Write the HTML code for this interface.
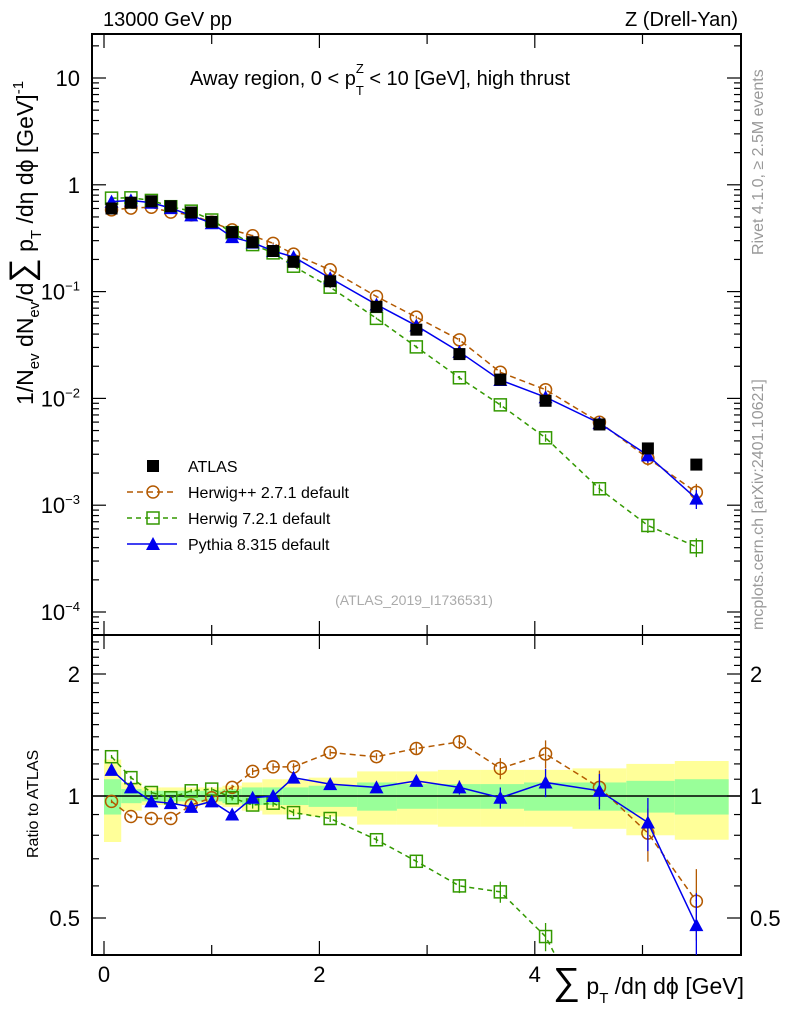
<!DOCTYPE html>
<html><head><meta charset="utf-8">
<style>
html,body{margin:0;padding:0;background:#fff;width:786px;height:1024px;overflow:hidden;}
svg{display:block;font-family:"Liberation Sans",sans-serif;}
</style></head>
<body>
<svg id="c" width="786" height="1024" viewBox="0 0 786 1024"></svg>
<script>
const xs = [0.07,0.25,0.44,0.62,0.81,1.0,1.19,1.38,1.57,1.76,2.1,2.53,2.9,3.3,3.68,4.1,4.6,5.05,5.5];
const edges = [0,0.16,0.35,0.53,0.72,0.9,1.1,1.28,1.47,1.66,1.9,2.35,2.72,3.1,3.5,3.9,4.35,4.85,5.3,5.8];
const atlas = [0.6,0.68,0.70,0.63,0.55,0.45,0.36,0.29,0.24,0.19,0.125,0.072,0.044,0.026,0.015,0.0095,0.0057,0.0034,0.0024];
const rHpp = [0.97,0.89,0.88,0.88,0.95,0.99,1.05,1.15,1.18,1.18,1.28,1.25,1.31,1.36,1.17,1.27,1.05,0.81,0.55];
const rH7 = [1.25,1.11,1.02,0.99,1.03,1.04,0.99,0.95,0.96,0.91,0.88,0.78,0.69,0.6,0.58,0.45,0.25,0.19,0.17];
const rPy = [1.16,1.05,0.97,0.96,0.94,0.97,0.9,0.99,1.0,1.11,1.07,1.05,1.09,1.05,0.99,1.08,1.03,0.86,0.48];
const errM = [0.01,0.01,0.01,0.01,0.01,0.01,0.015,0.02,0.02,0.02,0.02,0.02,0.03,0.04,0.06,0.08,0.1,0.15,0.2];
const green = [0.1,0.04,0.03,0.03,0.03,0.03,0.04,0.05,0.05,0.05,0.06,0.08,0.07,0.07,0.07,0.08,0.08,0.09,0.1];
const yellow = [0.23,0.08,0.05,0.05,0.05,0.05,0.06,0.08,0.1,0.1,0.11,0.15,0.15,0.16,0.16,0.16,0.17,0.2,0.22];
const mainTicks = [10,1,0.1,0.01,0.001,0.0001];
const mainTickLabels = ["10","1","10<tspan dy='-9' font-size='13'>−1</tspan>","10<tspan dy='-9' font-size='13'>−2</tspan>","10<tspan dy='-9' font-size='13'>−3</tspan>","10<tspan dy='-9' font-size='13'>−4</tspan>"];

const svg=document.getElementById('c');
const NS='http://www.w3.org/2000/svg';
const X0=92,X1=741,T=34,M=635,B=955;
const X=v=>104+v*107.7;
const Y=v=>78-(Math.log10(v)-1)*106.8;
const R=v=>796-Math.log2(v)*122;
function el(tag,attrs,parent,name,inter){const e=document.createElementNS(NS,tag);for(const k in attrs)e.setAttribute(k,attrs[k]);


(parent||svg).appendChild(e);return e;}
function clip(id,y0,y1){const cp=el('clipPath',{id:id},svg,'clip-'+id);el('rect',{x:X0,y:y0,width:X1-X0,height:y1-y0},cp,'clip-rect');}
clip('cm',T,M);clip('cr',M,B);

const gR=el('g',{'clip-path':'url(#cr)'},svg,'ratio-bands');
for(let i=0;i<xs.length;i++){
 const x0=X(edges[i]),x1=X(edges[i+1]);
 el('rect',{x:x0,y:R(1+yellow[i]),width:x1-x0,height:R(1-yellow[i])-R(1+yellow[i]),fill:'#ffff99'},gR,'mc-band-yellow');
 el('rect',{x:x0,y:R(1+green[i]),width:x1-x0,height:R(1-green[i])-R(1+green[i]),fill:'#99ff99'},gR,'mc-band-green');
}
el('line',{x1:X0,x2:X1,y1:R(1),y2:R(1),stroke:'#000','stroke-width':1.5},svg,'ratio-unity-line');

el('rect',{x:X0,y:T,width:X1-X0,height:M-T,fill:'none',stroke:'#000','stroke-width':2},svg,'main-frame');
el('rect',{x:X0,y:M,width:X1-X0,height:B-M,fill:'none',stroke:'#000','stroke-width':2},svg,'ratio-frame');

for(let v=0;v<=5.8;v+=0.2){const x=X(v);const maj=Math.abs(v/2-Math.round(v/2))<0.01;const minor5=Math.abs(v*2-Math.round(v*2))<0.01;
 if(x<X0||x>X1)continue;
 const L=maj?14:(minor5?10:0);if(!L)continue;
 for(const [a,b] of [[T,1],[M,-1],[M,1],[B,-1]]) el('line',{x1:x,x2:x,y1:a,y2:a+b*L,stroke:'#000','stroke-width':1.2},svg,'x-tick');
}
[0,2,4].forEach(v=>{const t=el('text',{x:X(v),y:982,'font-size':22,'text-anchor':'middle'},svg,'x-tick-label');t.textContent=v;});

for(let d=-5;d<=1;d++){for(let m=1;m<10;m++){const v=m*Math.pow(10,d);const y=Y(v);if(y<T||y>M)continue;const L=m==1?14:7;
 el('line',{x1:X0,x2:X0+L,y1:y,y2:y,stroke:'#000','stroke-width':1.2},svg,'y-tick');
 el('line',{x1:X1,x2:X1-L,y1:y,y2:y,stroke:'#000','stroke-width':1.2},svg,'y-tick');}}
mainTicks.forEach((v,i)=>{const t=el('text',{x:80,y:Y(v)+8,'font-size':22,'text-anchor':'end'},svg,'y-tick-label');t.innerHTML=mainTickLabels[i];});

for(let v=0.4;v<=2.5;v+=0.1){const y=R(v);if(y<M||y>B)continue;const maj=[0.5,1,2].some(a=>Math.abs(a-v)<0.01);const L=maj?14:7;
 el('line',{x1:X0,x2:X0+L,y1:y,y2:y,stroke:'#000','stroke-width':1.2},svg,'ratio-y-tick');
 el('line',{x1:X1,x2:X1-L,y1:y,y2:y,stroke:'#000','stroke-width':1.2},svg,'ratio-y-tick');}
[2,1,0.5].forEach(v=>{for(const [x,a] of [[80,'end'],[750,'start']]){const t=el('text',{x:x,y:R(v)+8,'font-size':22,'text-anchor':a},svg,'ratio-tick-label');t.textContent=v;}});

const series=[
 {name:'herwigpp',r:rHpp,color:'#b35900',dash:'6,4',m:'circle'},
 {name:'herwig7',r:rH7,color:'#339900',dash:'5,4',m:'square'},
 {name:'pythia',r:rPy,color:'#0000ee',dash:'',m:'tri'}];
function marker(g,type,x,y,color,name){
 if(type=='circle')el('circle',{cx:x,cy:y,r:6,fill:'none',stroke:color,'stroke-width':1.5},g,name);
 else if(type=='square')el('rect',{x:x-6,y:y-6,width:12,height:12,fill:'none',stroke:color,'stroke-width':1.5},g,name);
 else if(type=='tri')el('path',{d:`M${x-7},${y+6}L${x+7},${y+6}L${x},${y-7}Z`,fill:color},g,name);
 else el('rect',{x:x-6,y:y-6,width:12,height:12,fill:'#000'},g,name);
}
const gm=el('g',{'clip-path':'url(#cm)'},svg,'main-plot-area');
const gr=el('g',{'clip-path':'url(#cr)'},svg,'ratio-plot-area');
series.forEach(s=>{
 const vals=atlas.map((a,i)=>a*s.r[i]);
 el('polyline',{points:xs.map((x,i)=>X(x)+','+Y(vals[i])).join(' '),fill:'none',stroke:s.color,'stroke-width':1.5,'stroke-dasharray':s.dash},gm,s.name+'-line');
 el('polyline',{points:xs.map((x,i)=>X(x)+','+R(s.r[i])).join(' '),fill:'none',stroke:s.color,'stroke-width':1.5,'stroke-dasharray':s.dash},gr,s.name+'-ratio-line');
 xs.forEach((x,i)=>{const e=errM[i]*s.r[i];
  el('line',{x1:X(x),x2:X(x),y1:R(s.r[i]+e),y2:R(Math.max(0.05,s.r[i]-e)),stroke:s.color,'stroke-width':1.3},gr,s.name+'-ratio-error');
  el('line',{x1:X(x),x2:X(x),y1:Y(vals[i]*(1+errM[i])),y2:Y(vals[i]*(1-errM[i])),stroke:s.color,'stroke-width':1.3},gm,s.name+'-error');
  marker(gm,s.m,X(x),Y(vals[i]),s.color,s.name+'-point');
  marker(gr,s.m,X(x),R(s.r[i]),s.color,s.name+'-ratio-point');
 });
});
xs.forEach((x,i)=>marker(gm,'data',X(x),Y(atlas[i]),'#000','atlas-point'));

const leg=[['ATLAS','data','#000',''],['Herwig++ 2.7.1 default','circle','#b35900','6,4'],['Herwig 7.2.1 default','square','#339900','5,4'],['Pythia 8.315 default','tri','#0000ee','']];
leg.forEach((l,i)=>{const y=466+i*26;const g=el('g',{},svg,'legend-entry',true);
 if(l[1]!='data')el('line',{x1:127,x2:177,y1:y,y2:y,stroke:l[2],'stroke-width':1.5,'stroke-dasharray':l[3]},g,'legend-line');
 marker(g,l[1],153,y,l[2],'legend-marker');
 const t=el('text',{x:188,y:y+6,'font-size':16},g,'legend-label');t.textContent=l[0];});

function txt(s,a,name){const t=el('text',a,svg,name);t.innerHTML=s;return t;}
txt('13000 GeV pp',{x:103,y:26,'font-size':20},'beam-label');
txt('Z (Drell-Yan)',{x:738,y:26,'font-size':20,'text-anchor':'end'},'process-label');
txt('Away region, 0 &lt; p<tspan dy="10" font-size="13">T</tspan><tspan dy="-22" dx="-8" font-size="13">Z</tspan><tspan dy="12"> &lt; 10 [GeV], high thrust</tspan>',{x:190,y:85,'font-size':20},'plot-title');
txt('(ATLAS_2019_I1736531)',{x:414,y:605,'font-size':14,fill:'#aaa','text-anchor':'middle'},'analysis-id');
txt('Rivet 4.1.0, ≥ 2.5M events',{transform:'translate(763,255) rotate(-90)','font-size':16,fill:'#999'},'rivet-label');
txt('mcplots.cern.ch [arXiv:2401.10621]',{transform:'translate(763,630) rotate(-90)','font-size':16,fill:'#999'},'mcplots-label');
txt('1/N<tspan dy="6" font-size="15">ev</tspan><tspan dy="-6"> dN</tspan><tspan dy="6" font-size="15">ev</tspan><tspan dy="-6">/d</tspan><tspan font-size="34">∑</tspan><tspan> p</tspan><tspan dy="8" font-size="15">T</tspan><tspan dy="-8"> /dη dϕ  [GeV]</tspan><tspan dy="-10" font-size="15">-1</tspan>',{transform:'translate(33,405) rotate(-90)','font-size':23},'y-axis-title');
txt('Ratio to ATLAS',{transform:'translate(38,858) rotate(-90)','font-size':16},'ratio-axis-title');
txt('<tspan font-size="38">∑</tspan> p<tspan dy="9" font-size="15">T</tspan><tspan dy="-9"> /dη dϕ [GeV]</tspan>',{x:744,y:994,'font-size':23,'text-anchor':'end'},'x-axis-title');
</script>
</body></html>
